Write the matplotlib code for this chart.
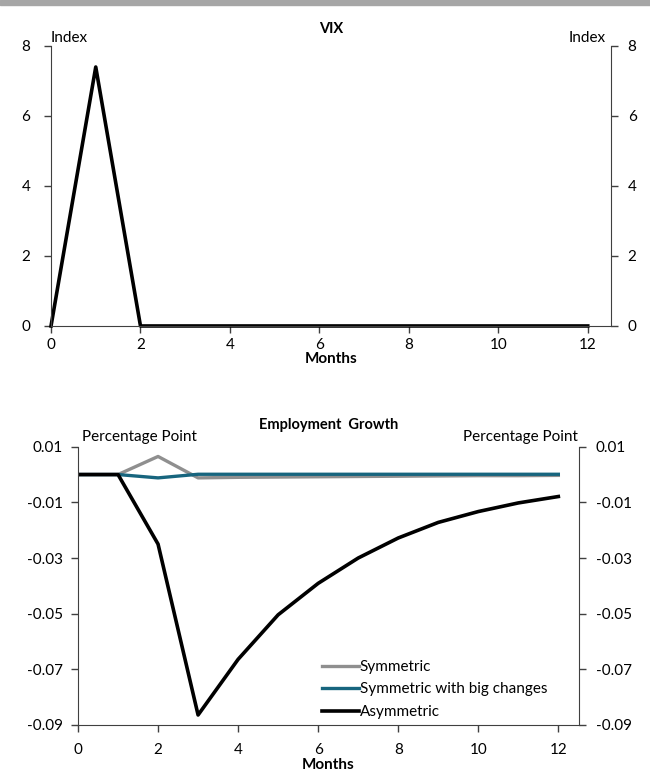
import numpy as np
import matplotlib.pyplot as plt
from matplotlib.patches import Rectangle

plt.rcParams['font.family'] = ['Lato', 'DejaVu Sans']
plt.rcParams['font.size'] = 11

months = np.arange(0, 13)

# VIX shock, index points
vix = [0, 7.4, 0, 0, 0, 0, 0, 0, 0, 0, 0, 0, 0]

# employment growth response, percentage points
symmetric = [0, 0, 0.0065, -0.0012, -0.0010, -0.0009, -0.0008, -0.0007,
             -0.0006, -0.0005, -0.0004, -0.0004, -0.0003]
symmetric_big = [0, 0, -0.0012, 0.0001, 0.0001, 0.0001, 0.0001, 0.0001,
                 0.0001, 0.0001, 0.0001, 0.0001, 0.0001]
asymmetric = [0, 0, -0.0250, -0.0864, -0.0664, -0.0504, -0.0391, -0.0300,
              -0.0228, -0.0172, -0.0133, -0.0102, -0.0079]

vix_ticks = [0, 2, 4, 6, 8]
emp_ticks = [0.01, -0.01, -0.03, -0.05, -0.07, -0.09]
month_ticks = [0, 2, 4, 6, 8, 10, 12]

gray = '#8f8f8f'
teal = '#17657e'
axis_col = '#404040'

fig = plt.figure(figsize=(6.5, 7.73), dpi=100)
fig.patches.append(Rectangle((0, 0.993), 1, 0.007, transform=fig.transFigure,
                             color='#a6a6a6', zorder=0))


def style_axes(ax, ax2, ticks, lim, fmt, lpad, xpad, xlpad):
    for a in (ax, ax2):
        a.spines['top'].set_visible(False)
        a.set_ylim(*lim)
        a.set_yticks(ticks)
        a.set_yticklabels([fmt(t) for t in ticks])
        a.tick_params(direction='out', length=5, width=1, color=axis_col,
                      labelsize=11)
    ax.tick_params(axis='y', pad=lpad)
    ax2.tick_params(axis='y', pad=7)
    ax2.spines['left'].set_visible(False)
    ax2.spines['bottom'].set_visible(False)
    ax.spines['right'].set_visible(False)
    for s in ('left', 'bottom'):
        ax.spines[s].set_color(axis_col)
    ax2.spines['right'].set_color(axis_col)
    ax.set_xlim(0, 12.52)
    ax.set_xticks(month_ticks)
    ax.tick_params(axis='x', pad=xpad)
    ax.set_xlabel('Months', fontweight='bold', labelpad=xlpad)


# top panel: VIX
ax1 = fig.add_axes([0.0785, 0.5783, 0.8615, 0.3622])
ax1r = ax1.twinx()
ax1.plot(months, vix, color='black', lw=2.6, clip_on=False)
style_axes(ax1, ax1r, vix_ticks, (0, 8), lambda t: f'{t:g}', 10, 4, 0)
ax1.text(0.5, 1.045, 'VIX', transform=ax1.transAxes, ha='center',
         va='baseline', fontweight='bold', fontsize=10.5)
ax1.text(0.0, 1.014, 'Index', transform=ax1.transAxes, ha='left',
         va='baseline')
ax1.text(0.99, 1.014, 'Index', transform=ax1.transAxes, ha='right',
         va='baseline')

# bottom panel: employment growth
ax2 = fig.add_axes([0.12, 0.0621, 0.771, 0.36])
ax2r = ax2.twinx()
ax2.plot(months, symmetric, color=gray, lw=2.4, label='Symmetric')
ax2.plot(months, symmetric_big, color=teal, lw=2.4,
         label='Symmetric with big changes')
ax2.plot(months, asymmetric, color='black', lw=2.6, label='Asymmetric')
style_axes(ax2, ax2r, emp_ticks, (-0.09, 0.01), lambda t: f'{t:.2f}', 6, 8, 1)
ax2.text(0.5, 1.065, 'Employment  Growth', transform=ax2.transAxes,
         ha='center', va='baseline', fontweight='bold', fontsize=10.5)
ax2.text(0.008, 1.022, 'Percentage Point', transform=ax2.transAxes,
         ha='left', va='baseline')
ax2.text(0.998, 1.022, 'Percentage Point', transform=ax2.transAxes,
         ha='right', va='baseline')
ax2.legend(loc='lower left', bbox_to_anchor=(0.475, 0.0), frameon=False,
           handlelength=2.4, handletextpad=0.05, labelspacing=0.55,
           borderaxespad=0, fontsize=11)

fig.savefig('out.png', dpi=100)
